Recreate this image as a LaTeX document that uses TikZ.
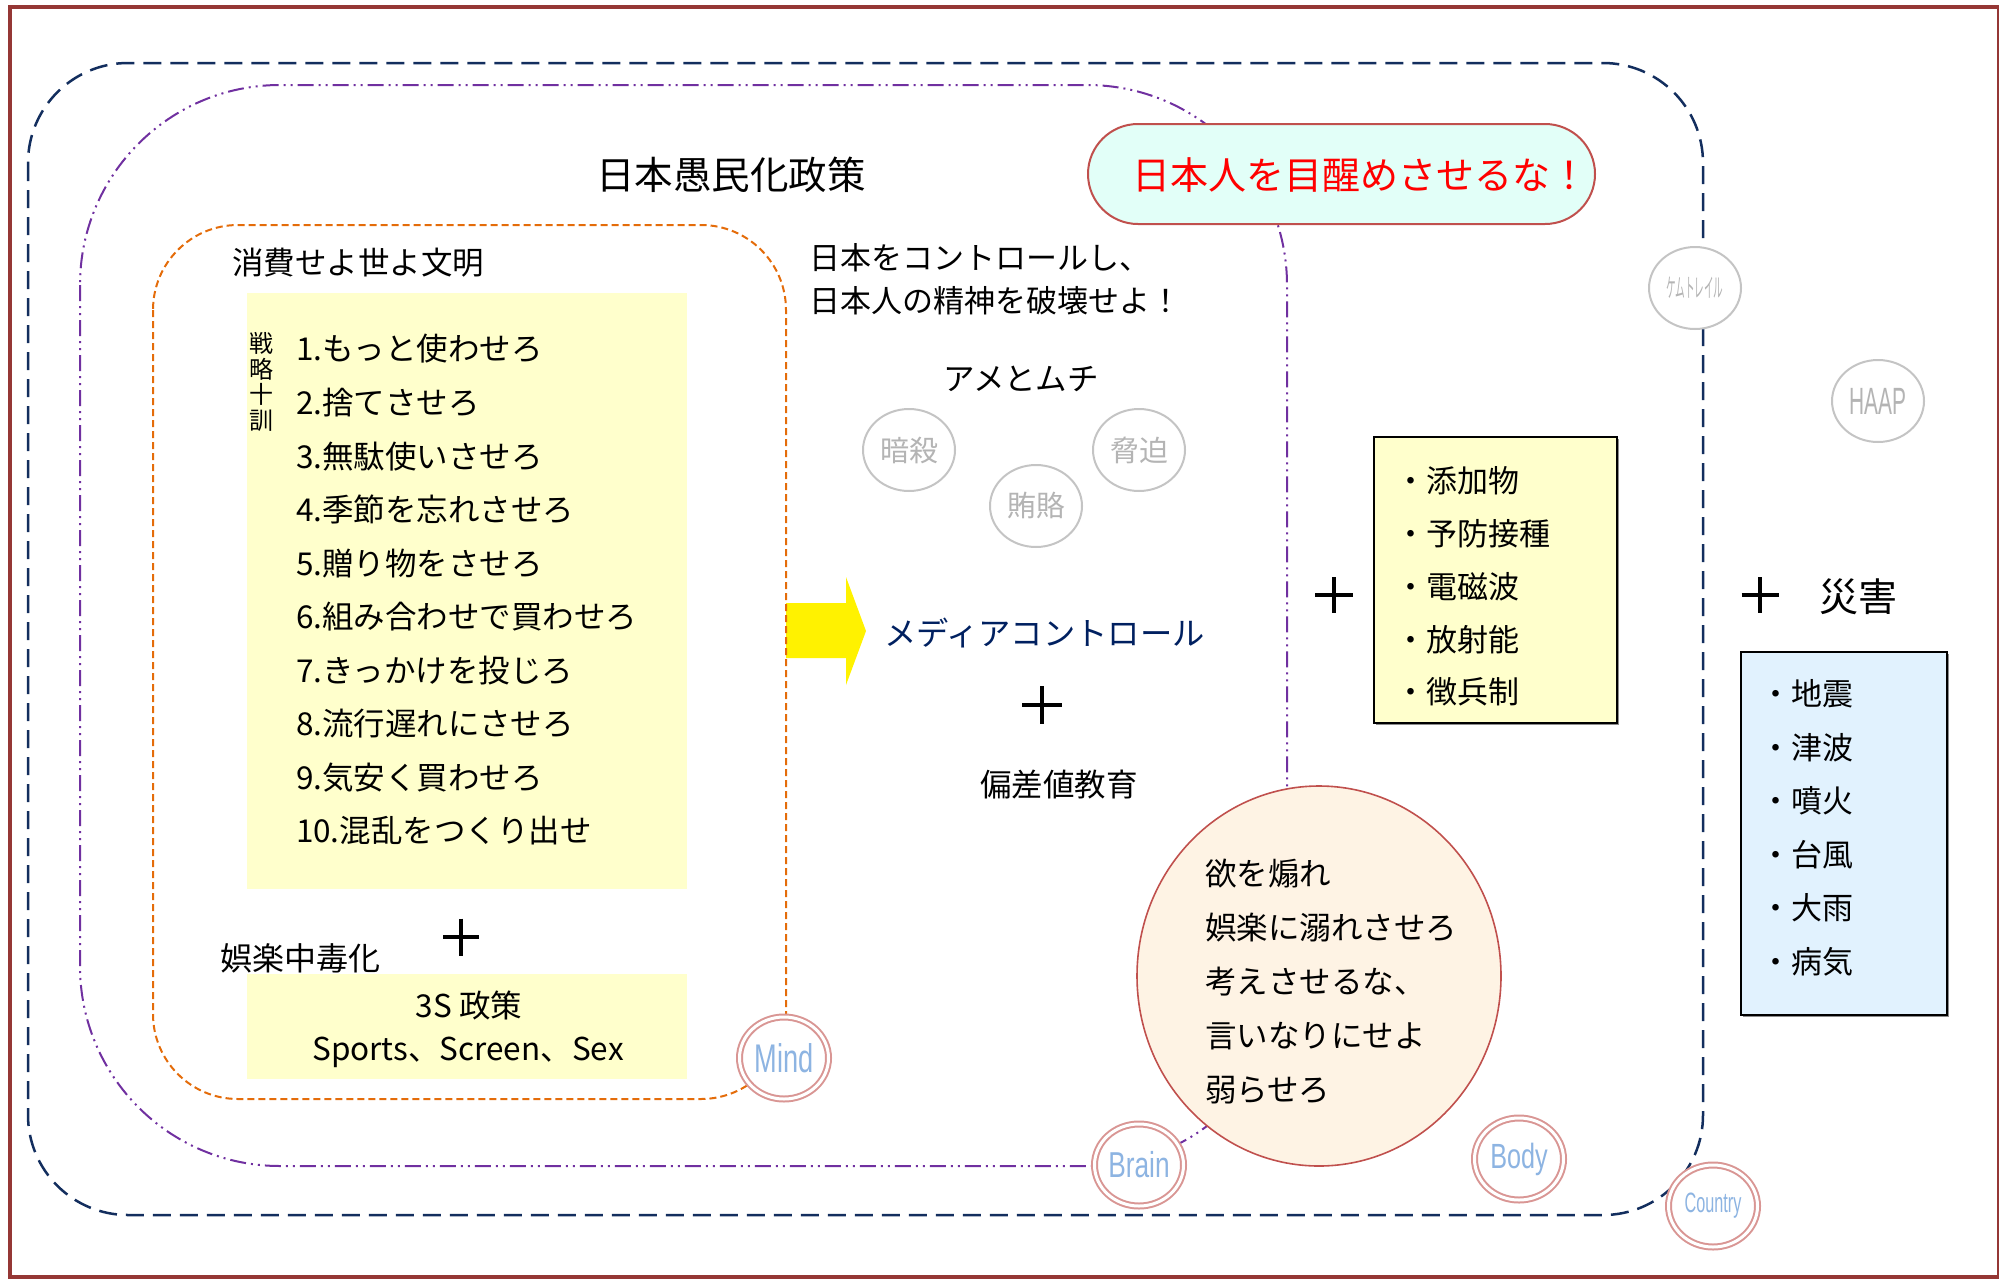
\documentclass[tikz,border=0pt]{standalone}
\usepackage{fontspec}
\usepackage{graphicx}
\setmainfont{Noto Sans CJK JP}
\newfontfamily\latf{Liberation Sans}
\usetikzlibrary{shapes.geometric,shadows}
\definecolor{framec}{HTML}{953735}
\definecolor{navyc}{HTML}{132E5E}
\definecolor{purpc}{HTML}{7030A0}
\definecolor{orgc}{HTML}{E46C0A}
\definecolor{lyel}{HTML}{FFFFCC}
\definecolor{lblue}{HTML}{E1F2FE}
\definecolor{peach}{HTML}{FEF3E4}
\definecolor{redbd}{HTML}{C0504D}
\definecolor{mint}{HTML}{E2FFF8}
\definecolor{pinkc}{HTML}{D99694}
\definecolor{skyc}{HTML}{8DB4E2}
\definecolor{grayc}{HTML}{C4C4C4}
\definecolor{graytx}{HTML}{B4B4B4}
\definecolor{mediac}{HTML}{002060}
\tikzset{
  jl/.style={font=\fontsize{#1}{#1}\selectfont, anchor=base west, inner sep=0pt, outer sep=0pt, yshift={-0.38*#1pt}},
  jc/.style={font=\fontsize{#1}{#1}\selectfont, anchor=base, inner sep=0pt, outer sep=0pt, yshift={-0.38*#1pt}},
  boxfill/.style={fill=lyel, inner sep=0pt, outer sep=0pt},
  framedbox/.style={draw=black, line width=2pt, inner sep=0pt, outer sep=0pt,
    drop shadow={shadow xshift=2pt, shadow yshift=-2pt, fill=black!45, opacity=1}},
  grayball/.style={ellipse, draw=grayc, line width=2pt, fill=white, minimum width=92pt, minimum height=82pt, inner sep=0pt, text=graytx},
  ringball/.style={ellipse, draw=pinkc, double=white, double distance=3pt, line width=2pt, fill=white, minimum width=89pt, minimum height=82pt, inner sep=0pt, text=skyc},
  plusline/.style={line width=4pt, black},
}
\begin{document}
\begin{tikzpicture}[x=1pt,y=-1pt]
\useasboundingbox (0,0) rectangle (1999,1280);
% outer frame
\draw[framec, line width=4pt] (9.5,7) rectangle (1998.5,1277);
% nested rounded frames
\draw[navyc, line width=2.5pt, dash pattern=on 18pt off 9pt, rounded corners=100pt] (28,63) rectangle (1703,1215);
\draw[purpc, line width=2pt, dash pattern=on 16pt off 5pt on 2pt off 5pt on 2pt off 5pt, rounded corners=200pt] (80,85) rectangle (1287,1166);
% yellow arrow
\fill[yellow] (786,603) -- (846,603) -- (846,577) -- (866,631) -- (846,685) -- (846,658) -- (786,658) -- cycle;
\draw[orgc, line width=2pt, dash pattern=on 7pt off 4pt, rounded corners=85pt] (153,225) rectangle (786,1099);

% title
\node[jc=38.5] (title) at (731,175) {日本愚民化政策};
\node[jl=31.5] (shohi) at (232,263) {消費せよ世よ文明};

% strategy list box
\node[boxfill, minimum width=440pt, minimum height=596pt] (list) at (467,591) {};
\node[font=\fontsize{24}{25.7}\selectfont, align=center, inner sep=0pt] (kun) at (261,382) {戦\\略\\十\\訓};
\foreach \t [count=\i from 0] in {1.もっと使わせろ,2.捨てさせろ,3.無駄使いさせろ,4.季節を忘れさせろ,5.贈り物をさせろ,6.組み合わせで買わせろ,7.きっかけを投じろ,8.流行遅れにさせろ,9.気安く買わせろ,10.混乱をつくり出せ}
  \node[jl=31.5] (item\i) at (296,{349+53.55*\i}) {\t};

% plus and 3S
\coordinate (plusA) at (461,937);
\draw[plusline] (plusA) +(-18,0) -- +(18,0) (plusA) +(0,-18.5) -- +(0,18.5);
\node[jl=32] (goraku) at (220,958) {娯楽中毒化};
\node[boxfill, minimum width=440pt, minimum height=105pt] (ss) at (467,1026.5) {};
\node[jc=31.5] (ssA) at (469,1006) {3S 政策};
\node[jc=31.5] (ssB) at (468,1049) {Sports、Screen、Sex};

% middle texts
\node[jl=31] (ctlA) at (809,258) {日本をコントロールし、};
\node[jl=31] (ctlB) at (809,301) {日本人の精神を破壊せよ！};
\node[jc=31.5] (ame) at (1021,379) {アメとムチ};
\node[grayball] (ansatsu) at (909,450) {\fontsize{29}{29}\selectfont 暗殺};
\node[grayball] (wairo) at (1036,506) {\fontsize{29}{29}\selectfont 賄賂};
\node[grayball] (kyohaku) at (1139,450) {\fontsize{29}{29}\selectfont 脅迫};
\node[jl=32.3, text=mediac] (media) at (884,633) {メディアコントロール};
\coordinate (plusB) at (1042,705);
\draw[plusline] (plusB) +(-20,0) -- +(20,0) (plusB) +(0,-19) -- +(0,19);
\node[jc=31.5] (hensa) at (1059,785) {偏差値教育};

% additives box
\coordinate (plusC) at (1334,595);
\draw[plusline] (plusC) +(-19,0) -- +(19,0) (plusC) +(0,-18) -- +(0,18);
\node[framedbox, fill=lyel, minimum width=243pt, minimum height=286pt] (sub) at (1495.5,580) {};
\foreach \t [count=\i from 0] in {・添加物,・予防接種,・電磁波,・放射能,・徴兵制}
  \node[jl=31] (sub\i) at (1395,{481+52.75*\i}) {\t};

% disasters
\coordinate (plusD) at (1760,595);
\draw[plusline] (plusD) +(-18.5,0) -- +(18.5,0) (plusD) +(0,-18) -- +(0,18);
\node[jc=39] (saigai) at (1858,597) {災害};
\node[framedbox, fill=lblue, minimum width=206pt, minimum height=363pt] (dis) at (1844,833.5) {};
\foreach \t [count=\i from 0] in {・地震,・津波,・噴火,・台風,・大雨,・病気}
  \node[jl=31] (dis\i) at (1760,{694+53.5*\i}) {\t};

% gray balls right
\node[grayball] (chem) at (1695,288) {\fontsize{26}{26}\selectfont\scalebox{0.37}[1]{ケムトレイル}};
\node[grayball] (haap) at (1878,401) {\latf\fontsize{38}{38}\selectfont\scalebox{0.55}[1]{HAAP}};

% pill
\node[draw=redbd, line width=2pt, fill=mint, rounded corners=50pt, minimum width=507pt, minimum height=100pt, inner sep=0pt] (pill) at (1341.5,174) {};
\node[jc=38, text=red] (pilltext) at (1360,175) {日本人を目醒めさせるな！};

% ellipse
\node[ellipse, draw=redbd, line width=1.6pt, fill=peach, minimum width=364pt, minimum height=380pt, inner sep=0pt] (el) at (1319,976) {};
\foreach \t [count=\i from 0] in {欲を煽れ,娯楽に溺れさせろ,考えさせるな、,言いなりにせよ,弱らせろ}
  \node[jl=31.5] (el\i) at (1205,{874+54*\i}) {\t};

% ring balls
\node[ringball] (mind) at (784,1058) {\latf\fontsize{40}{40}\selectfont\scalebox{0.68}[1]{Mind}};
\node[ringball] (brain) at (1139,1165) {\latf\fontsize{36}{36}\selectfont\scalebox{0.73}[1]{Brain}};
\node[ringball] (body) at (1519,1159) {\latf\fontsize{35}{35}\selectfont\scalebox{0.72}[1]{Body}};
\node[ringball] (country) at (1713,1206) {\latf\fontsize{28}{28}\selectfont\scalebox{0.58}[1]{Country}};
\end{tikzpicture}
\end{document}
